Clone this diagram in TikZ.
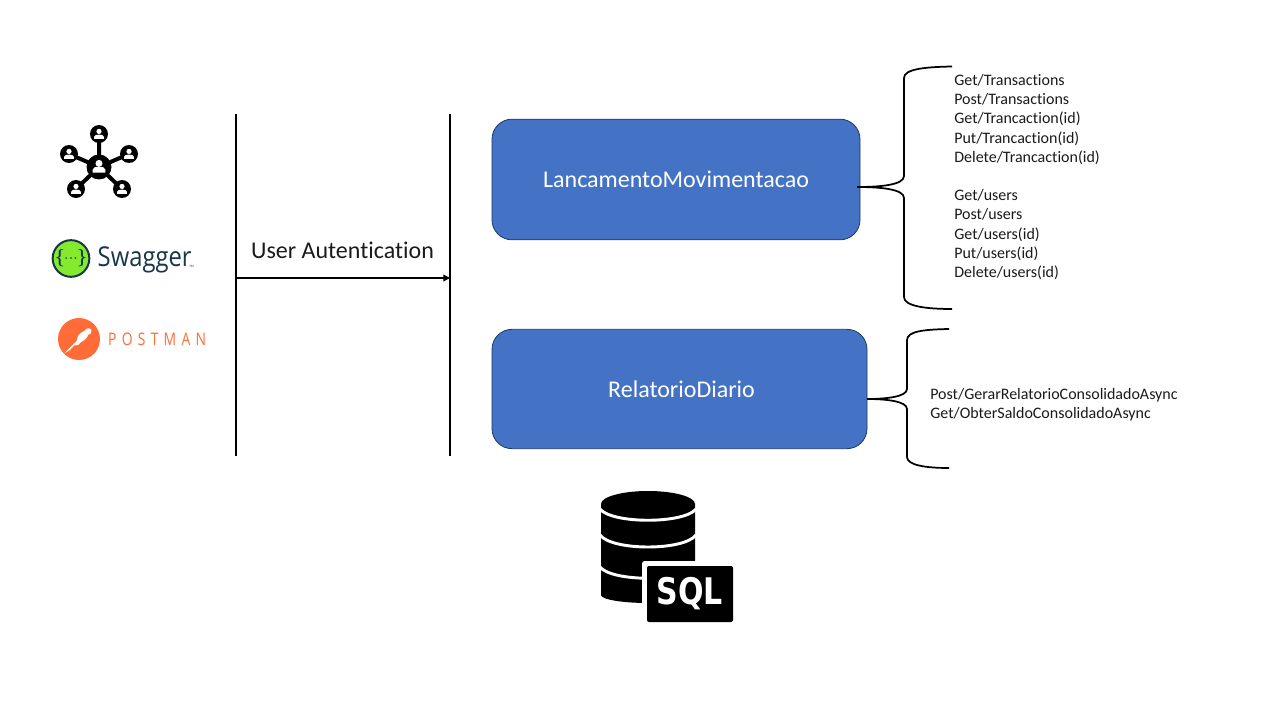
\documentclass[tikz,border=0pt]{standalone}
\usepackage{fontspec}
\setmainfont[Ligatures=NoCommon]{Carlito}
\newfontfamily\swagfont{Open Sans}
\newfontfamily\postfont[LetterSpace=38]{Open Sans}
\newfontfamily\sqlfont{DejaVu Sans}
\definecolor{boxblue}{HTML}{4472C4}
\definecolor{boxedge}{HTML}{1F3864}
\definecolor{swaggreen}{HTML}{85EA2D}
\definecolor{swagdark}{HTML}{173647}
\definecolor{postorange}{HTML}{FF6C37}
\definecolor{txt}{HTML}{1A1A1A}
\usetikzlibrary{arrows.meta}
\tikzset{
  x=0.75pt,y=-0.75pt,
  svcbox/.style={draw=boxedge,line width=0.6pt,fill=boxblue,rounded corners=15pt,inner sep=0pt,text=white,font=\fontsize{18}{21}\selectfont},
  endpoints/.style={anchor=west,align=left,inner sep=0pt,text=txt,font=\fontsize{12}{14.4}\selectfont},
  barline/.style={draw=black,line width=1.2pt},
  bracecurve/.style={draw=black,line width=1.3pt},
  person/.pic={
    \fill[white] (0,-2.6) circle[radius=2.6*#1];
    \fill[white] (-4.8*#1,5*#1) -- (-4.8*#1,2.8*#1) .. controls (-4.8*#1,1*#1) and (-2.5*#1,0.6*#1) .. (0,0.6*#1) .. controls (2.5*#1,0.6*#1) and (4.8*#1,1*#1) .. (4.8*#1,2.8*#1) -- (4.8*#1,5*#1) -- cycle;
  },
}
\begin{document}
\begin{tikzpicture}
\useasboundingbox (0,0) rectangle (1280,720);
% service boxes
\node[svcbox,minimum width=276pt,minimum height=90.5pt] (lanc) at (676,179.5) {LancamentoMovimentacao};
\node[svcbox,minimum width=281.25pt,minimum height=89.5pt] (rel) at (679.5,389) {\hspace{3pt}RelatorioDiario};
% vertical bars
\coordinate (b1t) at (236,114); \coordinate (b1b) at (236,456);
\coordinate (b2t) at (450,114); \coordinate (b2b) at (450,456);
\draw[barline] (b1t) -- (b1b);
\draw[barline] (b2t) -- (b2b);
\coordinate (arrS) at (236,278); \coordinate (arrE) at (450,278);
\draw[barline,-{Triangle[length=5pt,width=5pt]}] (arrS) -- (arrE);
\node[inner sep=0pt,text=txt,font=\fontsize{18}{21}\selectfont] (auth) at (342.5,250) {User Autentication};
% brace 1
\coordinate (t1) at (857,187);
\coordinate (u1) at (952,66.5);
\coordinate (d1) at (952,309);
\draw[bracecurve] (u1) .. controls (925,67) and (904,69) .. (904,78) -- (904,176) .. controls (904,185) and (880,187) .. (t1)
  .. controls (880,187) and (904,189) .. (904,198) -- (904,297) .. controls (904,306) and (925,309) .. (d1);
% brace 2
\coordinate (t2) at (867,399);
\coordinate (u2) at (949,329);
\coordinate (d2) at (949,468);
\draw[bracecurve] (u2) .. controls (925,329.5) and (907,331) .. (907,340) -- (907,389) .. controls (907,397) and (885,399) .. (t2)
  .. controls (885,399) and (907,401) .. (907,409) -- (907,457) .. controls (907,465) and (925,468) .. (d2);
% endpoint text
\node[endpoints] (ep1) at (954,177) {Get/Transactions\\Post/Transactions\\Get/Trancaction(id)\\Put/Trancaction(id)\\Delete/Trancaction(id)\\[14.4pt]Get/users\\Post/users\\Get/users(id)\\Put/users(id)\\Delete/users(id)};
\node[endpoints] (ep2) at (930,404.5) {Post/GerarRelatorioConsolidadoAsync\\Get/ObterSaldoConsolidadoAsync};
% network icon
\draw[black,line width=3pt] (99,167) -- (99,134) (99,167) -- (69,154) (99,167) -- (129,154) (99,167) -- (76,189) (99,167) -- (122,189);
\fill[black] (99,167) circle[radius=12.5];
\foreach \px/\py in {99/134,69/154,129/154,76/189,122/189}{
  \fill[black] (\px,\py) circle[radius=9];
  \pic at (\px,\py) {person=1};
}
\pic at (99,166) {person=1.35};
% swagger logo
\node[circle,draw=swagdark,line width=1.5pt,fill=swaggreen,minimum size=27pt,inner sep=0pt,text=swagdark,font=\sffamily\bfseries\fontsize{13}{14}\selectfont] (swagicon) at (71,258.5) {\raisebox{0.4pt}{\{\kern-0.5pt$\cdot\kern-2.5pt\cdot\kern-2.5pt\cdot$\kern-0.5pt\}}};
\node[anchor=west,inner sep=0pt,text=swagdark,font=\swagfont\fontsize{20.5}{24}\selectfont,xscale=0.87] (swagtext) at (97.5,260) {Swagger};
\node[inner sep=0pt,text=swagdark,font=\fontsize{2.5}{3}\selectfont] (swagtm) at (191.5,266) {TM};
% postman logo
\fill[postorange] (79,339) circle[radius=21];
\fill[white] (64,353.5) -- (76.5,341) -- (78,336) .. controls (80,333) and (83,331) .. (85,330.5) .. controls (86,327.5) and (91,327.5) .. (91.5,330.5) .. controls (92,333) and (90,334.5) .. (88.5,334.5) .. controls (87,338) and (84,341) .. (81,342) -- (78,345) -- (74,345.5) -- (70,350) -- cycle;
\node[anchor=west,inner sep=0pt,text=postorange,font=\postfont\fontsize{13}{14}\selectfont,xscale=0.8] (posttext) at (108,339) {POSTMAN};
% database icon
\fill[black] (601,504) arc[start angle=180,end angle=360,x radius=47,y radius=13] -- (695,595) arc[start angle=0,end angle=180,x radius=47,y radius=8] -- cycle;
\draw[white,line width=2.2pt] (600,509) .. controls (612,524) and (684,524) .. (696,509);
\draw[white,line width=2.2pt] (600,535) .. controls (612,551) and (684,551) .. (696,535);
\draw[white,line width=2.2pt] (600,567) .. controls (612,582) and (684,582) .. (696,567);
\fill[white,rounded corners=2pt] (642,561) rectangle (737,626);
\node[draw=none,fill=black,rounded corners=1.5pt,minimum width=64.5pt,minimum height=42pt,inner sep=0pt,text=white,font=\sqlfont\bfseries\fontsize{25}{28}\selectfont] (sql) at (690,594) {\scalebox{0.9}[1.1]{SQL}};
\end{tikzpicture}
\end{document}
